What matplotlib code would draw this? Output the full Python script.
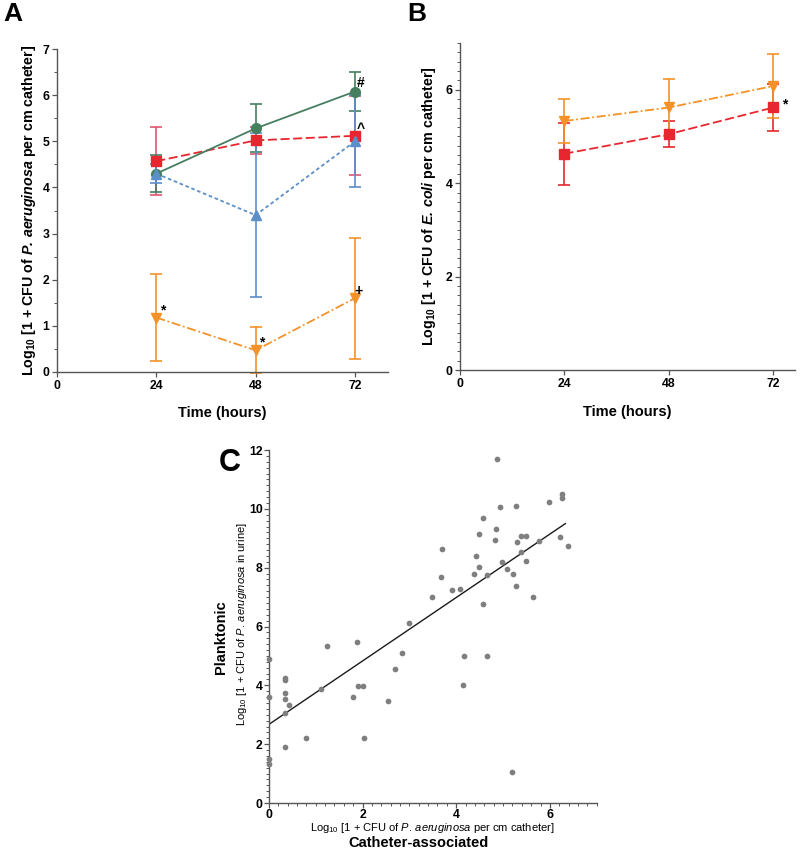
import matplotlib
matplotlib.use("Agg")
import matplotlib.pyplot as plt
from matplotlib.ticker import MultipleLocator

plt.rcParams["font.family"] = ["Liberation Sans", "DejaVu Sans"]
plt.rcParams["mathtext.fontset"] = "custom"
plt.rcParams["mathtext.rm"] = "Liberation Sans"
plt.rcParams["mathtext.it"] = "Liberation Sans:italic"
plt.rcParams["mathtext.bf"] = "Liberation Sans:bold"
plt.rcParams["mathtext.bfit"] = "Liberation Sans:bold:italic"
plt.rcParams["mathtext.default"] = "regular"

# ---------------------------------------------------------------------- #
# Data
# ---------------------------------------------------------------------- #
hours = [24, 48, 72]

# Panel A: P. aeruginosa on catheter
a_green = [4.30, 5.28, 6.08]
a_green_err = [0.40, 0.52, 0.42]
a_red = [4.57, 5.02, 5.12]
a_red_err = [0.74, 0.30, 0.86]
a_blue = [4.30, 3.40, 5.00]
a_blue_err = [0.20, 1.77, 1.00]
a_orange = [1.18, 0.47, 1.60]
a_orange_err = [0.94, 0.50, 1.31]

# Panel B: E. coli on catheter
b_orange = [5.33, 5.62, 6.08]
b_orange_err = [0.47, 0.62, 0.68]
b_red = [4.63, 5.05, 5.62]
b_red_err = [0.66, 0.28, 0.51]

# Panel C: catheter-associated vs planktonic
c_x = [0.00, 0.00, 0.00, 0.00, 0.355, 0.355, 0.355, 0.355, 0.355, 0.44,
       0.355, 0.80, 1.12, 1.24, 1.79, 1.88, 1.90, 2.01, 2.03, 2.55,
       2.69, 2.84, 3.00, 3.49, 3.67, 3.69, 3.92, 4.09, 4.14, 4.17,
       4.38, 4.43, 4.48, 4.48, 4.57, 4.57, 4.65, 4.65, 4.83, 4.85,
       4.87, 4.93, 4.97, 5.08, 5.21, 5.20, 5.28, 5.29, 5.28, 5.39,
       5.39, 5.48, 5.49, 5.63, 5.76, 5.99, 6.21, 6.26, 6.26, 6.38]
c_y = [4.91, 3.61, 1.51, 1.34, 4.26, 4.17, 3.74, 3.55, 3.06, 3.32,
       1.91, 2.21, 3.86, 5.35, 3.61, 5.47, 3.98, 3.99, 2.21, 3.47,
       4.57, 5.10, 6.11, 7.00, 7.69, 8.65, 7.25, 7.29, 4.00, 5.00,
       7.77, 8.39, 8.01, 9.13, 9.70, 6.76, 7.75, 5.00, 8.94, 9.33,
       11.68, 10.07, 8.19, 7.95, 7.77, 1.04, 10.09, 8.88, 7.38, 8.53,
       9.07, 9.07, 8.22, 7.00, 8.90, 10.24, 9.05, 10.51, 10.38, 8.73]
fit_x = [0.0, 6.33]
fit_y = [2.67, 9.50]

GREEN = "#467f60"
RED = "#e8262f"
RED_ERR = "#e05570"
BLUE = "#5b8fc9"
ORANGE = "#f4922a"
SPINE = "#555555"


def _style(ax, pad=2):
    for side in ("top", "right"):
        ax.spines[side].set_visible(False)
    for side in ("left", "bottom"):
        ax.spines[side].set_color(SPINE)
        ax.spines[side].set_linewidth(1.0)
    ax.tick_params(which="major", length=3.5, width=0.9, color=SPINE,
                   labelsize=8.8, pad=pad)
    ax.tick_params(which="minor", length=2, width=0.7, color=SPINE)
    for lab in ax.get_xticklabels() + ax.get_yticklabels():
        lab.set_fontweight("bold")


def _series(ax, y, err, color, marker, ls, ecolor=None, ms=7):
    ax.errorbar(hours, y, yerr=err, color=color, ecolor=ecolor or color,
                marker=marker, markersize=ms, linestyle=ls, linewidth=1.3,
                elinewidth=1.2, capsize=4, capthick=1.2, clip_on=False)


def _mark(ax, x, y, s, dx, dy):
    ax.annotate(s, (x, y), xytext=(dx, dy), textcoords="offset points",
                ha="center", va="center", fontsize=10, fontweight="bold")


fig = plt.figure(figsize=(8.0, 8.52), dpi=100)

# ---------------------------------------------------------------------- #
# A
# ---------------------------------------------------------------------- #
ax = fig.add_axes([0.07125, 0.5634, 0.41375, 0.379])
ax.set_ylim(0, 7)
_series(ax, a_red, a_red_err, RED, "s", (0, (5, 2)), ecolor=RED_ERR)
_series(ax, a_green, a_green_err, GREEN, "o", "-")
_series(ax, a_blue, a_blue_err, BLUE, "^", (0, (2, 1.5)))
_series(ax, a_orange, a_orange_err, ORANGE, "v", (0, (5, 1.5, 1, 1.5)))
ax.set_xlim(0, 80)
ax.set_xticks([0, 24, 48, 72])
ax.yaxis.set_major_locator(MultipleLocator(1))
ax.yaxis.set_minor_locator(MultipleLocator(0.5))
ax.set_xlabel("Time (hours)", fontsize=10.5, fontweight="bold", labelpad=10)
ax.set_ylabel(r"Log$_{10}$ [1 + CFU of $\mathbfit{P.\,aeruginosa}$ per cm catheter]",
              fontsize=10.3, fontweight="bold", labelpad=3)
_style(ax)
_mark(ax, 72, a_green[2], "#", 4, 6)
_mark(ax, 72, a_red[2], "^", 4, 5)
_mark(ax, 24, a_orange[0], "*", 4.5, 5)
_mark(ax, 48, a_orange[1], "*", 4.5, 5.5)
_mark(ax, 72, a_orange[2], "+", 2.5, 5)
fig.text(0.016, 0.983, "A", fontsize=19, fontweight="bold", ha="center", va="center")

# ---------------------------------------------------------------------- #
# B
# ---------------------------------------------------------------------- #
ax = fig.add_axes([0.575, 0.5657, 0.419, 0.3838])
_series(ax, b_red, b_red_err, RED, "s", (0, (5, 2)))
_series(ax, b_orange, b_orange_err, ORANGE, "v", (0, (5, 1.5, 1, 1.5)))
ax.set_xlim(0, 77)
ax.set_ylim(0, 7)
ax.set_xticks([0, 24, 48, 72])
ax.yaxis.set_major_locator(MultipleLocator(2))
ax.yaxis.set_minor_locator(MultipleLocator(0.2))
ax.set_xlabel("Time (hours)", fontsize=10.5, fontweight="bold", labelpad=11)
ax.set_ylabel(r"Log$_{10}$ [1 + CFU of $\mathbfit{E.\,coli}$ per cm catheter]",
              fontsize=10.3, fontweight="bold", labelpad=5)
_style(ax)
_mark(ax, 72, b_red[2], "*", 8, 2)
fig.text(0.521, 0.983, "B", fontsize=19, fontweight="bold", ha="center", va="center")

# ---------------------------------------------------------------------- #
# C
# ---------------------------------------------------------------------- #
ax = fig.add_axes([0.336, 0.0575, 0.41, 0.4143])
ax.scatter(c_x, c_y, s=17, color="#7f7f7f", linewidths=0, clip_on=False, zorder=3)
ax.plot(fit_x, fit_y, color="#1a1a1a", linewidth=1.0)
ax.set_xlim(0, 7)
ax.set_ylim(0, 12)
ax.xaxis.set_major_locator(MultipleLocator(2))
ax.xaxis.set_minor_locator(MultipleLocator(0.2))
ax.yaxis.set_major_locator(MultipleLocator(2))
ax.yaxis.set_minor_locator(MultipleLocator(0.2))
_style(ax, pad=1)
ax.text(0.5, -0.071, r"Log$_{10}$ [1 + CFU of $\mathit{P.\,aeruginosa}$ per cm catheter]",
        transform=ax.transAxes, ha="center", va="center", fontsize=8)
ax.text(0.455, -0.112, "Catheter-associated", transform=ax.transAxes,
        ha="center", va="center", fontsize=10.5, fontweight="bold")
ax.text(-0.083, 0.507, r"Log$_{10}$ [1 + CFU of $\mathit{P.\,aeruginosa}$ in urine]",
        transform=ax.transAxes, ha="center", va="center", fontsize=8, rotation=90)
ax.text(-0.146, 0.469, "Planktonic", transform=ax.transAxes,
        ha="center", va="center", fontsize=10.5, fontweight="bold", rotation=90)
fig.text(0.2875, 0.4565, "C", fontsize=22, fontweight="bold", ha="center", va="center")

fig.savefig("out.png", dpi=100)
